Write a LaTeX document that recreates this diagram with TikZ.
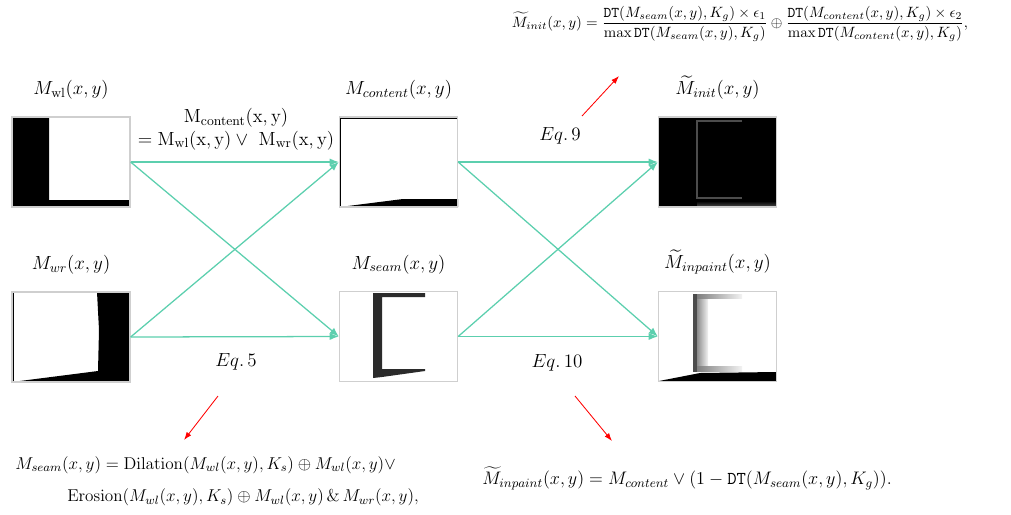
\RequirePackage{fix-cm}
\documentclass[tikz,border=0pt]{standalone}
\usepackage{amsmath}
\usetikzlibrary{arrows.meta,positioning,backgrounds}
\definecolor{flowline}{HTML}{5CCFAE}
\definecolor{maskframe}{HTML}{CFCFCF}
\definecolor{seamgray}{HTML}{2B2B2B}

\begin{document}
\begin{tikzpicture}[x=0.025cm,y=-0.025cm,
  maskbox/.style={draw=maskframe,line width=0.9pt,minimum width=2.95cm,
                  minimum height=2.25cm,inner sep=0pt},
  masklabel/.style={inner sep=0pt,font=\fontsize{13.5}{16}\selectfont},
  eqn/.style={inner sep=0pt,font=\fontsize{13.5}{16}\selectfont},
  formula/.style={inner sep=0pt,align=left},
  flow/.style={-{Latex[length=2.3mm,width=1.8mm]},line width=0.9pt,draw=flowline},
  pointer/.style={-{Latex[length=2mm,width=1.4mm]},line width=0.6pt,draw=red}
]
\useasboundingbox (0,0) rectangle (1011,514);

% mask images
\node[maskbox] (wl) at (71,162) {};
\node[maskbox] (wr) at (71,337) {};
\node[maskbox] (content) at (398.5,162) {};
\node[maskbox] (seam) at (398.5,336.5) {};
\node[maskbox] (init) at (717.5,162) {};
\node[maskbox] (inpaint) at (717.5,336.5) {};

\begin{scope}[on background layer]
  \fill (12,117) -- (49,117) -- (49,200) -- (130,200) -- (130,207) -- (12,207) -- cycle;
  \fill (97,292) -- (130,292) -- (130,382) -- (12,382) -- (98,371) -- (99,330) -- cycle;
  \draw[line width=0.5pt] (13,292) -- (13,382);
  \fill (340,207) -- (403,199) -- (458,199) -- (458,207) -- cycle;
  \draw[line width=0.5pt] (340,118) -- (458,118);
  \draw[line width=0.5pt] (340,118) -- (340,207);
  \fill[seamgray] (373,293) -- (425,293) -- (425,297) -- (382,297) -- (382,369)
    -- (425,369) -- (425,371) -- (382,377) -- (373,378) -- cycle;
  \fill (658.5,117) rectangle (776.5,207);
  \draw[black!70,line width=1pt] (742,121) -- (697,121) -- (697,198) -- (742,198);
  \shade[top color=black,bottom color=black!75] (697,201) rectangle (776,206);
  \fill[black!70] (693,294) rectangle (697,372);
  \shade[left color=black!45,right color=black!5] (697,294) rectangle (708,366);
  \shade[left color=black!50,right color=black!5] (697,294) rectangle (742,298);
  \shade[left color=black!50,right color=black!5] (697,366) rectangle (742,371);
  \fill (659,381) -- (700,373) -- (776,372) -- (776,381) -- cycle;
\end{scope}

% names
\node[masklabel,above=0.42cm of wl] (wllab) {$M_{\mathrm{wl}}(x,y)$};
\node[masklabel,above=0.42cm of wr] (wrlab) {$M_{wr}(x,y)$};
\node[masklabel,above=0.42cm of content] (contentlab) {$M_{content}(x,y)$};
\node[masklabel,above=0.42cm of seam] (seamlab) {$M_{seam}(x,y)$};
\node[masklabel,above=0.42cm of init] (initlab) {$\widetilde{M}_{init}(x,y)$};
\node[masklabel,above=0.42cm of inpaint] (inpaintlab) {$\widetilde{M}_{inpaint}(x,y)$};

\node[eqn,align=center] (union) at (236,129)
  {$\mathrm{M}_{\mathrm{content}}(\mathrm{x},\mathrm{y})$\\
   $=\mathrm{M}_{\mathrm{wl}}(\mathrm{x},\mathrm{y})\vee\ \mathrm{M}_{\mathrm{wr}}(\mathrm{x},\mathrm{y})$};
\node[eqn] (eq5) at (236,362) {$Eq.\,5$};
\node[eqn] (eq9) at (560,136) {$Eq.\,9$};
\node[eqn] (eq10) at (557,363) {$Eq.\,10$};

% connections
\draw[flow] (wl.east) -- (content.west);
\draw[flow] (wl.east) -- (seam.west);
\draw[flow] (wr.east) -- (content.west);
\draw[flow] (wr.east) -- (seam.west);
\draw[flow] (content.east) -- (init.west);
\draw[flow] (content.east) -- (inpaint.west);
\draw[flow] (seam.east) -- (init.west);
\draw[flow] (seam.east) -- (inpaint.west);

% equations
\node[formula,font=\fontsize{10.6}{12}\selectfont] (initeq) at (740,24)
  {$\widetilde{M}_{init}(x,y)=\dfrac{\mathtt{DT}(M_{seam}(x,y),K_g)\times\epsilon_1}{\max\mathtt{DT}(M_{seam}(x,y),K_g)}
   \oplus\dfrac{\mathtt{DT}(M_{content}(x,y),K_g)\times\epsilon_2}{\max\mathtt{DT}(M_{content}(x,y),K_g)},$};
\node[formula,anchor=west,font=\fontsize{12.2}{23}\selectfont] (seameq) at (15,481)
  {$M_{seam}(x,y)=\mathrm{Dilation}(M_{wl}(x,y),K_s)\oplus M_{wl}(x,y)\vee$\\
   \hspace*{1.3cm}$\mathrm{Erosion}(M_{wl}(x,y),K_s)\oplus M_{wl}(x,y)\,\&\,M_{wr}(x,y),$};
\node[formula,anchor=west,font=\fontsize{12.9}{15}\selectfont] (inpainteq) at (482,478)
  {$\widetilde{M}_{inpaint}(x,y)=M_{content}\vee(1-\mathtt{DT}(M_{seam}(x,y),K_g)).$};

\coordinate (p9a) at (582,116);
\coordinate (p9b) at (619,76);
\coordinate (p5a) at (218,396);
\coordinate (p5b) at (184,440);
\coordinate (p10a) at (575,396);
\coordinate (p10b) at (612,441);
\draw[pointer] (p9a) -- (p9b);
\draw[pointer] (p5a) -- (p5b);
\draw[pointer] (p10a) -- (p10b);
\end{tikzpicture}
\end{document}
